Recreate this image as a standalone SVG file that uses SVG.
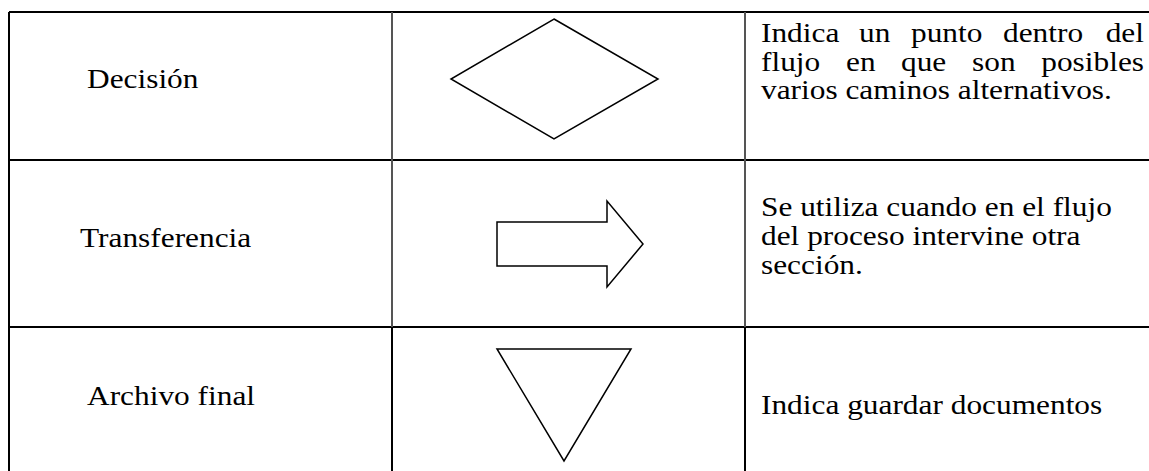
<svg xmlns="http://www.w3.org/2000/svg" width="1149" height="471" viewBox="0 0 1149 471">
<style>
.t{font-family:"Liberation Serif","Times New Roman",serif;font-size:28px;fill:#000}
.e{text-anchor:end}
.ln{stroke:#000;stroke-width:2;fill:none}
.lg{stroke:#555;stroke-width:2;fill:none}
.sh{stroke:#000;stroke-width:1.5;fill:#fff;stroke-linejoin:miter}
</style>
<rect x="0" y="0" width="1149" height="471" fill="#fff"/>
<g id="grid">
<line class="ln" x1="9" y1="12" x2="1149" y2="12"/>
<line class="ln" x1="9" y1="160" x2="1149" y2="160"/>
<line class="ln" x1="9" y1="327" x2="1149" y2="327"/>
<line class="ln" x1="9" y1="12" x2="9" y2="471"/>
<line class="lg" x1="392" y1="12" x2="392" y2="327"/>
<line class="ln" x1="392" y1="327" x2="392" y2="471"/>
<line class="lg" x1="745" y1="12" x2="745" y2="327"/>
<line class="ln" x1="745" y1="327" x2="745" y2="471"/>
</g>
<g id="row-decision">
<text class="t" transform="translate(87,88) scale(1.12,1)">Decisión</text>
<polygon class="sh" points="554,19 658,79 554,139 451,79"/>
<text class="t" transform="translate(761,42) scale(1.12,1)">Indica</text>
<text class="t" transform="translate(859,42) scale(1.12,1)">un</text>
<text class="t" transform="translate(911,42) scale(1.12,1)">punto</text>
<text class="t" transform="translate(1003,42) scale(1.12,1)">dentro</text>
<text class="t e" transform="translate(1144,42) scale(1.12,1)">del</text>
<text class="t" transform="translate(761,70.5) scale(1.12,1)">flujo</text>
<text class="t" transform="translate(846,70.5) scale(1.12,1)">en</text>
<text class="t" transform="translate(901,70.5) scale(1.12,1)">que</text>
<text class="t" transform="translate(972,70.5) scale(1.12,1)">son</text>
<text class="t e" transform="translate(1144,70.5) scale(1.12,1)">posibles</text>
<text class="t" transform="translate(761,99) scale(1.12,1)">varios caminos alternativos.</text>
</g>
<g id="row-transferencia">
<text class="t" transform="translate(80,247) scale(1.12,1)">Transferencia</text>
<polygon class="sh" points="497,222 607,222 607,201 643,244 607,287 607,266 497,266"/>
<text class="t" transform="translate(761,216) scale(1.12,1)">Se utiliza cuando en el flujo</text>
<text class="t" transform="translate(761,245) scale(1.12,1)">del proceso intervine otra</text>
<text class="t" transform="translate(761,274) scale(1.12,1)">sección.</text>
</g>
<g id="row-archivo">
<text class="t" transform="translate(87,405) scale(1.12,1)">Archivo final</text>
<polygon class="sh" points="497,349 631,349 564,461"/>
<text class="t" transform="translate(761,414) scale(1.12,1)">Indica guardar documentos</text>
</g>
</svg>
